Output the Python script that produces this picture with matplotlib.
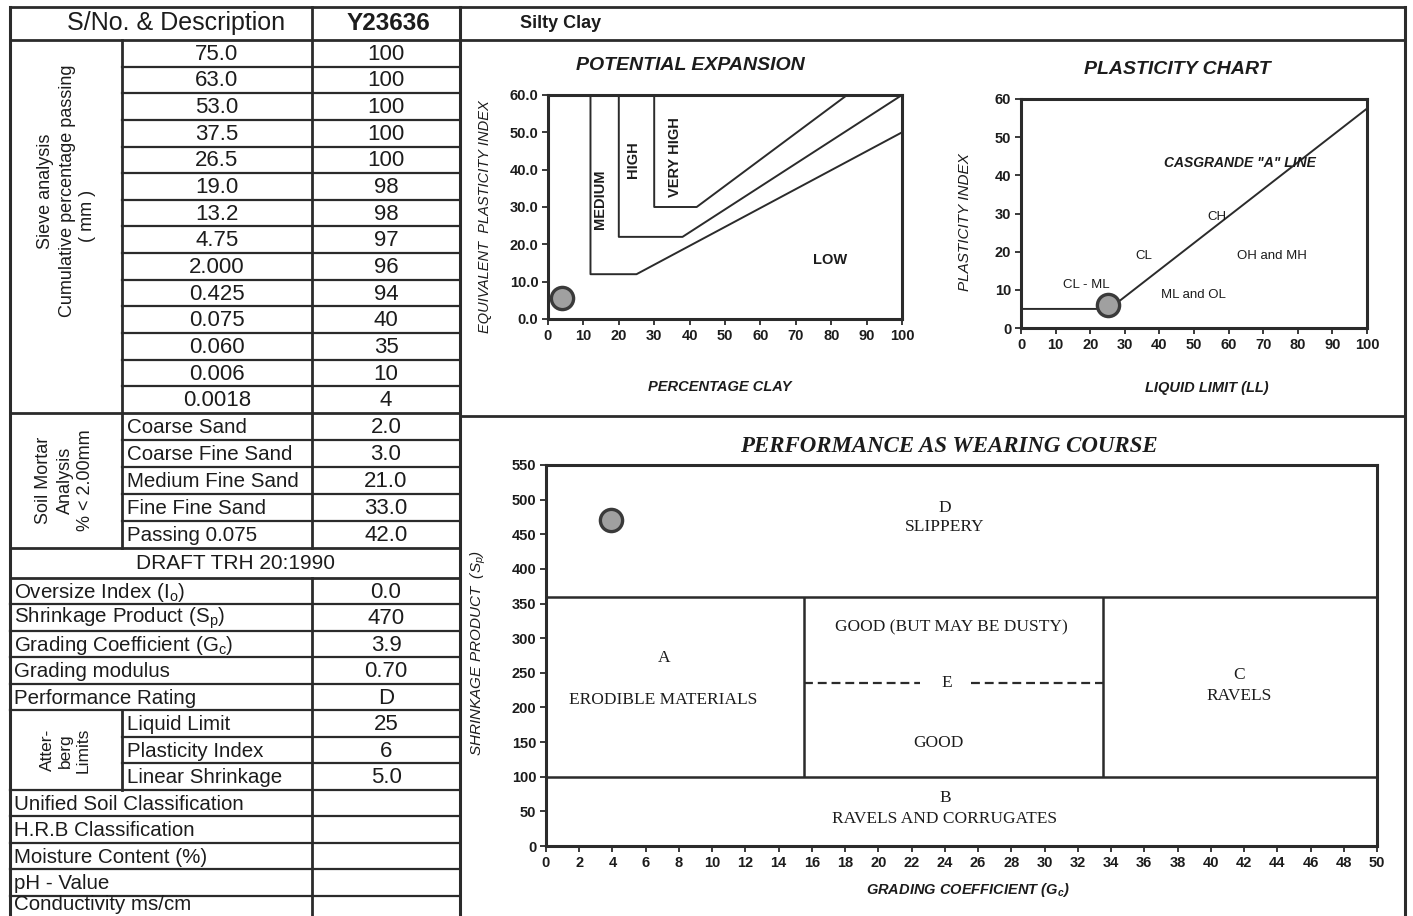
import matplotlib
matplotlib.use("Agg")
import numpy as np
import matplotlib.pyplot as plt

plt.rcParams["font.family"] = ["Liberation Sans", "DejaVu Sans"]
plt.rcParams["mathtext.default"] = "regular"

INK = "#1c1c1c"
LINE = "#2b2b2b"
SERIF = ["Liberation Serif", "DejaVu Serif"]
NARROW = ["Liberation Sans Narrow", "Liberation Sans"]

# --- table values ---
sample_no = "Y23636"
description = "Silty Clay"
sieve_sizes = ["75.0", "63.0", "53.0", "37.5", "26.5", "19.0", "13.2",
               "4.75", "2.000", "0.425", "0.075", "0.060", "0.006", "0.0018"]
sieve_passing = [100, 100, 100, 100, 100, 98, 98, 97, 96, 94, 40, 35, 10, 4]
mortar_labels = ["Coarse Sand", "Coarse Fine Sand", "Medium Fine Sand",
                 "Fine Fine Sand", "Passing 0.075"]
mortar_values = ["2.0", "3.0", "21.0", "33.0", "42.0"]
trh_labels = ["Oversize Index (I$_o$)", "Shrinkage Product (S$_p$)",
              "Grading Coefficient (G$_c$)", "Grading modulus",
              "Performance Rating"]
trh_values = ["0.0", "470", "3.9", "0.70", "D"]
atterberg_labels = ["Liquid Limit", "Plasticity Index", "Linear Shrinkage"]
atterberg_values = ["25", "6", "5.0"]
other_labels = ["Unified Soil Classification", "H.R.B Classification",
                "Moisture Content (%)", "pH - Value", "Conductivity ms/cm"]

# --- potential expansion chart ---
medium_x = [12, 12, 25, 100]
medium_y = [60, 12, 12, 50]
high_x = [20, 20, 38, 100]
high_y = [60, 22, 22, 60]
vhigh_x = [30, 30, 42, 84.5]
vhigh_y = [60, 30, 30, 60]
clay_pct = 4
equiv_pi = 5.6

# --- plasticity chart ---
aline_ll = [0, 25.5, 100]
aline_pi = [5, 5, 57.5]
liquid_limit = 25
plasticity_index = 6

# --- wearing course chart ---
sp_bounds = [100, 360]
gc_bounds = [15.5, 33.5]
e_line_sp = 235
e_line_segments = [(15.5, 22.5), (25.6, 33.5)]
grading_coef = 3.9
shrinkage_product = 470

W, H = 1413, 916
fig = plt.figure(figsize=(W / 100, H / 100), dpi=100)
bg = fig.add_axes([0, 0, 1, 1])
bg.set_xlim(0, W)
bg.set_ylim(H, 0)
bg.axis("off")


def px_axes(x0, y0, x1, y1):
    return fig.add_axes([x0 / W, 1 - y1 / H, (x1 - x0) / W, (y1 - y0) / H])


def hline(y, x0, x1, lw=1.6):
    bg.plot([x0, x1], [y, y], color=LINE, lw=lw, solid_capstyle="projecting")


def vline(x, y0, y1, lw=1.6):
    bg.plot([x, x], [y0, y1], color=LINE, lw=lw, solid_capstyle="projecting")


def cell(x, y, s, size=15, ha="center", **kw):
    bg.text(x, y, s, fontsize=size, ha=ha, va="center", color=INK, **kw)


X_L, X_GRP, X_VAL, X_CHT, X_R = 10, 122, 312, 460, 1405
X_MID_VAL = (X_VAL + X_CHT) / 2
TOP, HDR = 7, 40

# table grid
sieve_edges = HDR + 26.64 * np.arange(len(sieve_sizes) + 1)
mortar_edges = sieve_edges[-1] + 27 * np.arange(len(mortar_labels) + 1)
draft_bot = mortar_edges[-1] + 30
n_lower = len(trh_labels) + len(atterberg_labels) + len(other_labels)
lower_edges = draft_bot + 26.5 * np.arange(n_lower + 1)

hline(TOP, X_L, X_R, 2.0)
hline(HDR, X_L, X_R, 2.0)
for y in sieve_edges[1:-1]:
    hline(y, X_GRP, X_CHT)
for y in mortar_edges[1:-1]:
    hline(y, X_GRP, X_CHT)
hline(sieve_edges[-1], X_L, X_CHT, 2.0)
hline(416, X_CHT, X_R, 2.0)
hline(mortar_edges[-1], X_L, X_CHT, 2.0)
hline(draft_bot, X_L, X_CHT, 2.0)
att_start = len(trh_labels)
att_end = att_start + len(atterberg_labels)
for i, y in enumerate(lower_edges[1:-1], start=1):
    if att_start < i < att_end:
        hline(y, X_GRP, X_CHT)
    else:
        hline(y, X_L, X_CHT)

vline(X_L, TOP, H, 2.2)
vline(X_VAL, TOP, mortar_edges[-1], 2.0)
vline(X_VAL, draft_bot, H, 2.0)
vline(X_CHT, TOP, H, 2.2)
vline(X_R, TOP, H, 2.2)
vline(X_GRP, HDR, mortar_edges[-1], 2.0)
vline(X_GRP, lower_edges[att_start], lower_edges[att_end], 2.0)

# header
cell(176, 23, "S/No. & Description", size=18)
cell(388, 23, sample_no, size=17.5, fontweight="bold")
bg.text(520, 23, description, fontsize=13, fontweight="bold", family=NARROW,
        ha="left", va="center", color=INK)

# sieve block
for i, (s, v) in enumerate(zip(sieve_sizes, sieve_passing)):
    yc = (sieve_edges[i] + sieve_edges[i + 1]) / 2 + 1
    cell((X_GRP + X_VAL) / 2, yc, s, size=16)
    cell(X_MID_VAL, yc, str(v), size=16)
cell(45, 191, "Sieve analysis", size=13, rotation=90)
cell(67, 191, "Cumulative percentage passing", size=13, rotation=90)
cell(88, 216, "( mm )", size=13, rotation=90)

# soil mortar block
for i, (s, v) in enumerate(zip(mortar_labels, mortar_values)):
    yc = (mortar_edges[i] + mortar_edges[i + 1]) / 2 + 1
    cell(X_GRP + 5, yc, s, size=14.8, ha="left")
    cell(X_MID_VAL, yc, v, size=16)
for txt, x in [("Soil Mortar", 44), ("Analysis", 65), ("% < 2.00mm", 86)]:
    cell(x, 480, txt, size=13, rotation=90)

cell((X_L + X_CHT) / 2, (mortar_edges[-1] + draft_bot) / 2 + 1,
     "DRAFT TRH 20:1990", size=15)

lower_labels = trh_labels + atterberg_labels + other_labels
lower_values = trh_values + atterberg_values + [""] * len(other_labels)
for i, (s, v) in enumerate(zip(lower_labels, lower_values)):
    yc = min((lower_edges[i] + lower_edges[i + 1]) / 2 + 1, H - 12)
    x = X_GRP + 5 if att_start <= i < att_end else X_L + 4
    cell(x, yc, s, size=14.8, ha="left")
    if v:
        cell(X_MID_VAL, yc, v, size=16)
att_mid = (lower_edges[att_start] + lower_edges[att_end]) / 2
for txt, x in [("Atter-", 47), ("berg", 65), ("Limits", 83)]:
    cell(x, att_mid, txt, size=12.5, rotation=90)


def style_axes(ax):
    for sp in ax.spines.values():
        sp.set_linewidth(2.2)
        sp.set_color(LINE)
    ax.tick_params(direction="out", length=4, width=1.3, color=LINE,
                   labelsize=10.5, labelcolor=INK, pad=3)
    for lbl in ax.get_xticklabels() + ax.get_yticklabels():
        lbl.set_fontweight("bold")


def sample_marker(ax, x, y):
    ax.plot([x], [y], "o", ms=16, mfc="#a0a0a0", mec="#3a3a3a", mew=2.4,
            zorder=5, clip_on=False)


# potential expansion
ax1 = px_axes(548, 95, 902, 319)
ax1.set_xlim(0, 100)
ax1.set_ylim(0, 60)
ax1.set_xticks(np.arange(0, 101, 10))
ax1.set_yticks(np.arange(0, 61, 10))
ax1.set_yticklabels([f"{v:.1f}" for v in np.arange(0, 61, 10)])
for xs, ys in [(medium_x, medium_y), (high_x, high_y), (vhigh_x, vhigh_y)]:
    ax1.plot(xs, ys, color=LINE, lw=1.4)
sample_marker(ax1, clay_pct, equiv_pi)
ax1.text(14.7, 32, "MEDIUM", rotation=90, ha="center", va="center",
         fontsize=10.5, fontweight="bold", color=INK)
ax1.text(24, 42.6, "HIGH", rotation=90, ha="center", va="center",
         fontsize=10.5, fontweight="bold", color=INK)
ax1.text(35.9, 43.4, "VERY HIGH", rotation=90, ha="center", va="center",
         fontsize=10.5, fontweight="bold", color=INK)
ax1.text(79.7, 15.8, "LOW", ha="center", va="center",
         fontsize=10.5, fontweight="bold", color=INK)
style_axes(ax1)
cell(690, 66, "POTENTIAL EXPANSION", size=14, style="italic", fontweight="bold")
cell(720, 387, "PERCENTAGE CLAY", size=10.5, style="italic", fontweight="bold")
cell(485, 217, "EQUIVALENT  PLASTICITY INDEX", size=10.5, style="italic",
     rotation=90)

# plasticity chart
ax2 = px_axes(1021, 99, 1367, 328)
ax2.set_xlim(0, 100)
ax2.set_ylim(0, 60)
ax2.set_xticks(np.arange(0, 101, 10))
ax2.set_yticks(np.arange(0, 61, 10))
ax2.plot(aline_ll, aline_pi, color=LINE, lw=1.4)
sample_marker(ax2, liquid_limit, plasticity_index)
ax2.text(63.4, 43.2, 'CASGRANDE "A" LINE', ha="center", va="center",
         fontsize=10, style="italic", fontweight="bold", color=INK)
for txt, x, y in [("CH", 56.6, 29.2), ("CL", 35.4, 18.8), ("OH and MH", 72.5, 18.8),
                  ("CL - ML", 19, 11.3), ("ML and OL", 49.9, 8.7)]:
    ax2.text(x, y, txt, ha="center", va="center", fontsize=9.5, color=INK)
style_axes(ax2)
cell(1177, 69, "PLASTICITY CHART", size=14, style="italic", fontweight="bold")
cell(1207, 388, "LIQUID LIMIT (LL)", size=10.5, style="italic", fontweight="bold")
cell(965, 222, "PLASTICITY INDEX", size=11, style="italic", rotation=90)

# performance as wearing course
ax3 = px_axes(546, 465, 1377, 846)
ax3.set_xlim(0, 50)
ax3.set_ylim(0, 550)
ax3.set_xticks(np.arange(0, 51, 2))
ax3.set_yticks(np.arange(0, 551, 50))
for sp in sp_bounds:
    ax3.axhline(sp, color=LINE, lw=1.8)
ax3.vlines(gc_bounds, sp_bounds[0], sp_bounds[1], color=LINE, lw=1.8)
for x0, x1 in e_line_segments:
    ax3.plot([x0, x1], [e_line_sp, e_line_sp], color=LINE, lw=1.6,
             linestyle=(0, (4, 2.2)))
sample_marker(ax3, grading_coef, shrinkage_product)
for txt, x, y in [("D", 24.0, 488), ("SLIPPERY", 24.0, 461),
                  ("GOOD (BUT MAY BE DUSTY)", 24.4, 315),
                  ("A", 7.1, 271), ("ERODIBLE MATERIALS", 7.06, 211),
                  ("E", 24.1, 235), ("GOOD", 23.6, 149),
                  ("C", 41.7, 247), ("RAVELS", 41.7, 217),
                  ("B", 24.0, 69), ("RAVELS AND CORRUGATES", 24.0, 38.5)]:
    ax3.text(x, y, txt, ha="center", va="center", fontsize=12.5,
             family=SERIF, color=INK)
style_axes(ax3)
bg.text(949, 446, "PERFORMANCE AS WEARING COURSE", fontsize=16.5, family=SERIF,
        style="italic", fontweight="bold", ha="center", va="center", color=INK)
cell(968, 890, "GRADING COEFFICIENT (G$_c$)", size=10.5, style="italic",
     fontweight="bold")
cell(478, 653, "SHRINKAGE PRODUCT  (S$_p$)", size=11, style="italic",
     rotation=90)

fig.savefig("out.png", dpi=100, facecolor="white")
